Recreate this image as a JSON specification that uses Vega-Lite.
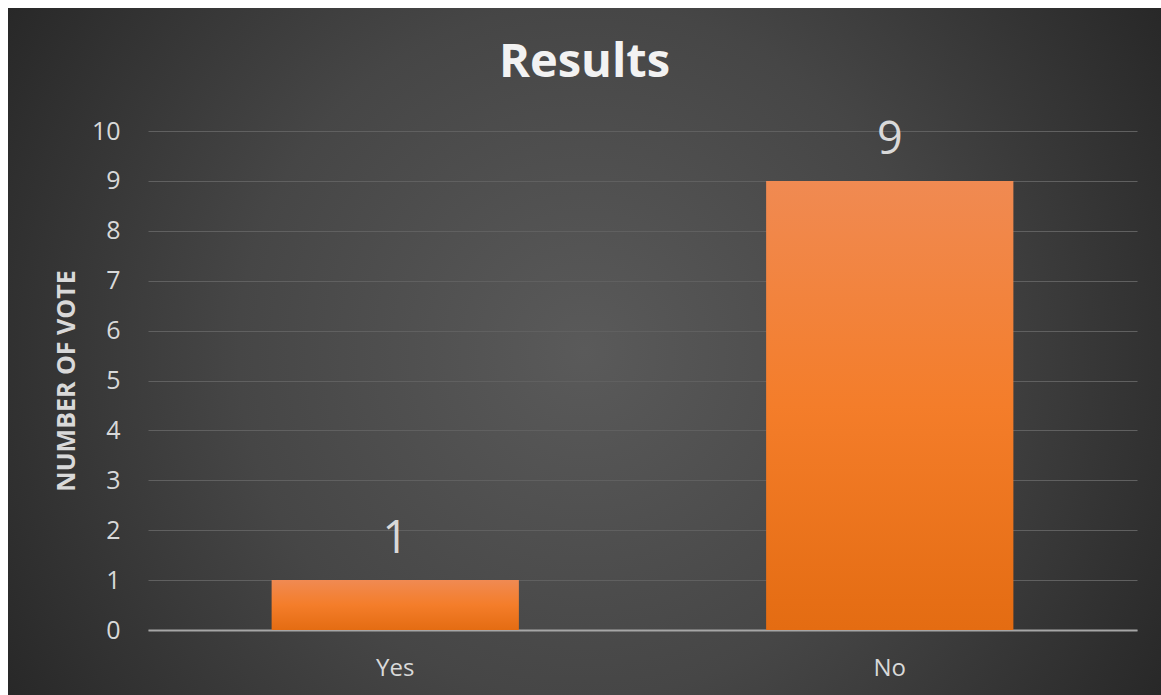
{
  "$schema": "https://vega.github.io/schema/vega-lite/v6.json",
  "autosize": {"type": "none"},
  "padding": {"left": 8, "top": 8, "right": 0, "bottom": 0},
  "width": 1153,
  "height": 687,
  "background": "#ffffff",
  "view": {
    "stroke": null,
    "fill": {
      "gradient": "radial",
      "x1": 0.5, "y1": 0.5, "r1": 0,
      "x2": 0.5, "y2": 0.5, "r2": 0.6,
      "stops": [
        {"offset": 0, "color": "#5a5a5a"},
        {"offset": 0.5, "color": "#464646"},
        {"offset": 1, "color": "#262626"}
      ]
    }
  },
  "title": {
    "text": "Results",
    "font": "Open Sans",
    "fontSize": 47,
    "fontWeight": "bold",
    "color": "#f2f2f2",
    "anchor": "middle",
    "baseline": "alphabetic",
    "offset": -69,
    "dy": 47
  },
  "data": {
    "values": [
      {"answer": "Yes", "votes": 1},
      {"answer": "No", "votes": 9}
    ]
  },
  "encoding": {
    "x": {
      "field": "answer",
      "type": "nominal",
      "sort": ["Yes", "No"],
      "scale": {"type": "band", "range": [140, 1129], "paddingInner": 0.5, "paddingOuter": 0.25},
      "axis": {
        "title": null,
        "orient": "bottom",
        "offset": -65,
        "labelAngle": 0,
        "domain": true,
        "domainColor": "#a6a6a6",
        "domainWidth": 2,
        "ticks": false,
        "tickSize": 0,
        "grid": false,
        "labelPadding": 45,
        "labelBaseline": "alphabetic",
        "labelFont": "Open Sans",
        "labelFontSize": 24,
        "labelColor": "#d9d9d9"
      }
    },
    "y": {
      "field": "votes",
      "type": "quantitative",
      "scale": {"domain": [0, 10], "range": [622, 123], "nice": false, "zero": true},
      "axis": {
        "title": "NUMBER OF VOTE",
        "orient": "left",
        "offset": -112,
        "values": [0, 1, 2, 3, 4, 5, 6, 7, 8, 9, 10],
        "domain": false,
        "ticks": false,
        "tickSize": 0,
        "labelPadding": 0,
        "labelFont": "Open Sans",
        "labelFontSize": 25,
        "labelColor": "#d9d9d9",
        "grid": true,
        "gridColor": "#606060",
        "gridWidth": 1,
        "titleFont": "Open Sans",
        "titleFontSize": 25,
        "titleFontWeight": "bold",
        "titleColor": "#d9d9d9",
        "titlePadding": 12
      }
    }
  },
  "layer": [
    {
      "mark": {
        "type": "bar",
        "color": {
          "gradient": "linear",
          "x1": 0, "y1": 0, "x2": 0, "y2": 1,
          "stops": [
            {"offset": 0, "color": "#f08a52"},
            {"offset": 0.5, "color": "#f47d2a"},
            {"offset": 1, "color": "#e46c12"}
          ]
        }
      }
    },
    {
      "mark": {
        "type": "text",
        "font": "Open Sans",
        "fontSize": 45,
        "color": "#d9d9d9",
        "baseline": "alphabetic",
        "dy": -27
      },
      "encoding": {
        "text": {"field": "votes", "type": "quantitative"}
      }
    }
  ]
}
